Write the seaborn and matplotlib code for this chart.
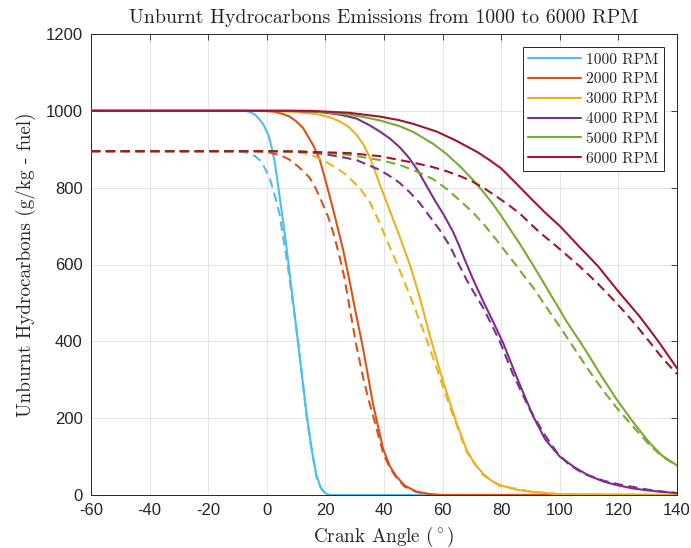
import numpy as np
import pandas as pd
import matplotlib
matplotlib.use("Agg")
import matplotlib.pyplot as plt
import seaborn as sns

# ---------------- data ----------------
rpm_labels = ["1000 RPM", "2000 RPM", "3000 RPM", "4000 RPM", "5000 RPM", "6000 RPM"]
colors = ["#4DBEEE", "#D95319", "#EDB120", "#7E2F8E", "#77AC30", "#A2142F"]

ang_1000_s = [-60, -8, -6, -4, -2.4, -1, 0.5, 1.5, 2.7, 3.5, 4.4, 5.6, 6.8, 8.7, 10.7, 13.5, 15.5, 17, 18.5, 20, 21.5, 140]
hc_1000_s = [1000, 1000, 998, 990, 977, 962, 938, 910, 868, 825, 775, 710, 640, 520, 395, 215, 110, 50, 18, 4, 0, 0]
ang_1000_d = [-60, -10, -6, -4, -1.8, 1, 3.3, 4.4, 5.8, 7.2, 9, 10.8, 13.6, 15.5, 17, 18.5, 20, 21.5, 140]
hc_1000_d = [895, 895, 890, 882, 868, 825, 764, 729, 660, 595, 495, 392, 205, 108, 46, 17, 4, 0, 0]

ang_2000_s = [-60, -2, 2.2, 5, 7.8, 10, 12.4, 15.8, 18.1, 20, 22.5, 26, 28.3, 30, 32.9, 36.3, 39.7, 42, 44.3, 47, 51, 56, 60, 140]
hc_2000_s = [1000, 1000, 998, 993, 985, 973, 955, 911, 872, 820, 748, 640, 555, 488, 380, 235, 120, 75, 48, 25, 9, 2, 0, 0]
ang_2000_d = [-60, -4, 0, 4.4, 7.5, 10.1, 12.5, 14.7, 16.5, 18.1, 20.9, 22.8, 24.7, 26.5, 28.5, 30.6, 32.9, 34.5, 36.3, 39.7, 42, 44.3, 47, 51, 56, 60, 140]
hc_2000_d = [895, 895, 893, 885, 874, 859, 843, 825, 801, 775, 725, 680, 625, 565, 478, 388, 305, 255, 205, 110, 70, 45, 22, 8, 1, 0, 0]

ang_3000_s = [-60, 0, 5, 10, 15, 18, 22, 25, 28, 30.6, 33, 35.2, 37, 38.6, 42, 45.4, 48.8, 52, 56, 60, 64.2, 68.2, 71, 73.8, 76.5, 79.5, 85, 90.8, 100, 140]
hc_3000_s = [1000, 1000, 999, 997, 993, 990, 982, 972, 958, 938, 912, 878, 842, 808, 740, 672, 600, 520, 405, 300, 200, 117, 80, 56, 38, 26, 14, 8, 2, 0]
ang_3000_d = [-60, 4, 10, 15, 20, 24, 27.2, 31.7, 35.2, 38.6, 42, 45.4, 48.8, 51.1, 55, 58, 62.5, 68.2, 73.8, 79.5, 90.8, 100, 140]
hc_3000_d = [895, 895, 893, 886, 868, 850, 833, 799, 762, 707, 645, 585, 520, 475, 395, 330, 230, 112, 52, 24, 8, 2, 0]

ang_4000_s = [-60, 8, 18, 25, 30.6, 35.2, 38.6, 42, 45.4, 48.5, 51.5, 54.5, 57.5, 60.5, 63.5, 65.6, 67.6, 70.5, 73.8, 77, 80.7, 85.5, 90.9, 95, 100, 105, 110, 115, 119.3, 125, 130, 135, 140]
hc_4000_s = [1000, 1000, 997, 990, 980, 962, 946, 928, 905, 878, 845, 805, 765, 728, 686, 650, 612, 560, 505, 455, 395, 303, 205, 145, 100, 72, 50, 35, 26, 17, 12, 8, 5]
ang_4000_d = [-60, 8, 15, 21.5, 26, 30.6, 35.2, 38.6, 42, 45.4, 48.8, 52.2, 55.6, 59, 62.5, 65.3, 68.2, 71, 73.8, 76.6, 79.5, 84, 89.8, 95, 98.9, 103, 108, 115, 120, 125, 130, 135, 140]
hc_4000_d = [895, 895, 892, 885, 879, 872, 857, 846, 830, 812, 788, 760, 725, 690, 648, 604, 560, 523, 488, 445, 400, 315, 222, 155, 112, 80, 56, 37, 28, 21, 14, 9, 5]

ang_5000_s = [-60, 12, 20, 28.3, 33, 38.6, 45.4, 50, 56.8, 61.3, 66, 70.4, 74, 77.2, 80, 83, 86, 90.9, 93.2, 96.6, 100, 102.3, 107, 110, 114.2, 119.3, 125, 130.7, 135, 140]
hc_5000_s = [1000, 1000, 996, 990, 984, 975, 960, 945, 914, 888, 855, 820, 788, 757, 727, 692, 658, 598, 569, 525, 482, 452, 398, 362, 310, 250, 190, 135, 102, 77]
ang_5000_d = [-60, 10, 20, 28.3, 38.6, 45, 50, 56.8, 61.5, 66, 70.4, 74, 78.4, 82, 85.2, 88, 90.9, 93.2, 96.6, 100, 103.5, 106.8, 111.4, 115, 119.3, 125, 130.7, 135, 140]
hc_5000_d = [895, 895, 891, 885, 872, 860, 846, 822, 796, 766, 735, 705, 664, 628, 597, 568, 540, 514, 476, 438, 398, 360, 308, 270, 228, 178, 130, 100, 76]

ang_6000_s = [-60, 15, 28, 38.6, 45, 50, 58, 64.7, 72, 76, 80, 85, 90, 95, 100, 103.5, 106.8, 110, 113.1, 116.8, 120.5, 124, 127.3, 130.7, 134.1, 137, 140]
hc_6000_s = [1000, 1000, 995, 985, 976, 966, 946, 922, 892, 872, 850, 812, 773, 735, 700, 672, 645, 620, 595, 560, 525, 494, 464, 430, 395, 363, 330]
ang_6000_d = [-60, 0, 10, 20, 28, 38.6, 50, 56, 61.3, 66, 70.4, 74.5, 78.4, 82.5, 86.3, 90, 93.2, 96.6, 100, 103.5, 106.8, 110, 113.1, 116.8, 120.5, 124, 127.3, 130.7, 134.1, 137, 140]
hc_6000_d = [895, 895, 894, 892, 890, 882, 865, 855, 843, 830, 815, 797, 777, 755, 733, 706, 683, 662, 640, 617, 595, 572, 549, 520, 490, 460, 430, 398, 365, 340, 315]

x_ticks = [-60, -40, -20, 0, 20, 40, 60, 80, 100, 120, 140]
y_ticks = [0, 200, 400, 600, 800, 1000, 1200]

solid_series = [(ang_1000_s, hc_1000_s), (ang_2000_s, hc_2000_s), (ang_3000_s, hc_3000_s),
                (ang_4000_s, hc_4000_s), (ang_5000_s, hc_5000_s), (ang_6000_s, hc_6000_s)]
dashed_series = [(ang_1000_d, hc_1000_d), (ang_2000_d, hc_2000_d), (ang_3000_d, hc_3000_d),
                 (ang_4000_d, hc_4000_d), (ang_5000_d, hc_5000_d), (ang_6000_d, hc_6000_d)]

# ---------------- style ----------------
sns.set_style("white")
plt.rcParams["font.family"] = ["Liberation Sans", "DejaVu Sans"]
plt.rcParams["mathtext.fontset"] = "cm"
plt.rcParams["axes.unicode_minus"] = False

fig = plt.figure(figsize=(6.91, 5.48), dpi=100)
ax = fig.add_axes([91 / 691, 1 - 495 / 548, (677 - 91) / 691, (495 - 34) / 548])

solid_handles = []
for i, ((a, h), lab, c) in enumerate(zip(solid_series, rpm_labels, colors)):
    df = pd.DataFrame({"angle": a, "hc": h})
    sns.lineplot(data=df, x="angle", y="hc", ax=ax, color=c, linewidth=1.5,
                 estimator=None, sort=False, legend=False)
    ln = ax.lines[-1]
    ln.set_label(lab)
    ln.set_zorder(3 + i * 0.1)
    ln.set_solid_joinstyle("round")
    solid_handles.append(ln)
for i, ((a, h), c) in enumerate(zip(dashed_series, colors)):
    df = pd.DataFrame({"angle": a, "hc": h})
    sns.lineplot(data=df, x="angle", y="hc", ax=ax, color=c, linewidth=1.5,
                 estimator=None, sort=False, legend=False)
    ln = ax.lines[-1]
    ln.set_dashes((4.5, 2.6))
    ln.set_zorder(3 + i * 0.1)

ax.set_xlim(-60, 140)
ax.set_ylim(0, 1200)
ax.set_xticks(x_ticks)
ax.set_yticks(y_ticks)
ax.set_xticklabels([str(t) for t in x_ticks])
ax.set_yticklabels([str(t) for t in y_ticks])
ax.grid(True, color="#e4e4e4", linewidth=0.7)
ax.set_axisbelow(True)
for s in ax.spines.values():
    s.set_color("#262626")
    s.set_linewidth(0.7)
    s.set_visible(True)
ax.tick_params(direction="in", length=4, width=0.6, colors="#262626",
               top=True, right=True, labelsize=12)
ax.tick_params(axis="x", pad=5.5)
ax.tick_params(axis="y", pad=6)
for lbl in ax.get_xticklabels() + ax.get_yticklabels():
    lbl.set_color("#262626")

cm = "cmr10"
ax.set_title("Unburnt Hydrocarbons Emissions from 1000 to 6000 RPM", family=cm, fontsize=14.3, pad=8)
ax.set_xlabel(r"Crank Angle $(^\circ)$", family=cm, fontsize=13.8, labelpad=5)
ax.set_ylabel("Unburnt Hydrocarbons (g/kg - fuel)", family=cm, fontsize=13.8, labelpad=7)

leg = ax.legend(handles=solid_handles, labels=rpm_labels, loc="upper right",
                prop={"family": cm, "size": 11.2}, frameon=True, fancybox=False,
                framealpha=1, edgecolor="#262626", handlelength=3.4, handletextpad=0.3,
                labelspacing=0.38, borderpad=0.35, borderaxespad=0.85)
leg.get_frame().set_linewidth(0.7)

fig.savefig("out.png", dpi=100)
